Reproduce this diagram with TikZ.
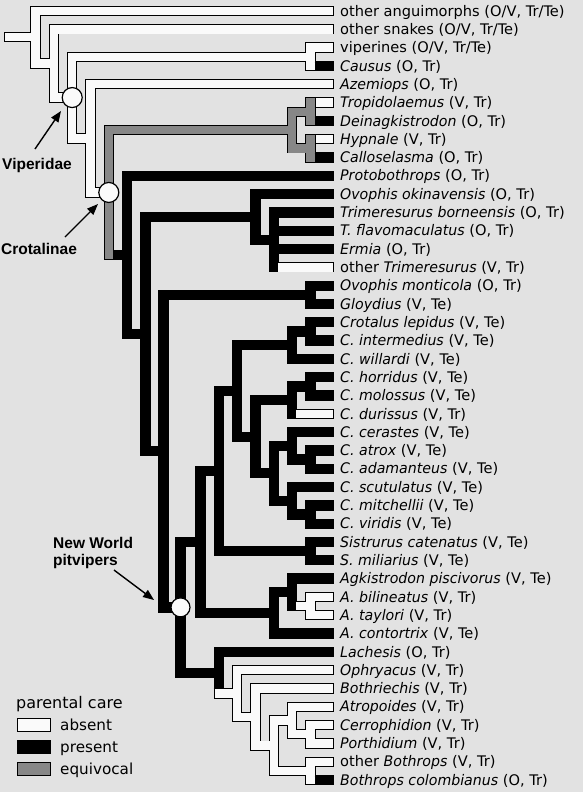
\documentclass[tikz,border=0pt]{standalone}
\usepackage{fontspec}
\setmainfont{DejaVu Sans}[ItalicFeatures={FakeStretch=0.97}]
\newfontfamily\boldsans{Liberation Sans}
\usetikzlibrary{calc,arrows.meta}
\definecolor{bg}{RGB}{226,226,226}
\definecolor{eqgray}{RGB}{135,135,135}
\definecolor{wfill}{RGB}{250,250,250}
\newcommand\mknode[4]{\path let \p1=($(#3)!0.5!(#4)$) in (#2pt,\y1) coordinate (#1);}
\newcommand\treebands{%
 \VB{R}{t1}{S}{wfill}
 \VB{S}{t2}{V}{wfill}
 \VB{V}{VC}{AC}{wfill}
 \VB{VC}{t3}{t4}{wfill}
 \VB{AC}{t5}{CT}{wfill}
 \VB{CT}{AS}{R2}{eqgray}
 \VB{AS}{P67}{P89}{eqgray}
 \VB{P67}{t6}{t7}{eqgray}
 \VB{P89}{t8}{t9}{eqgray}
 \VB{R2}{t10}{R3}{black}
 \VB{R3}{OT}{R4}{black}
 \VB{OT}{t11}{T1}{black}
 \VB{T1}{t12}{t15}{black}
 \VB{R4}{PA}{NW}{black}
 \VB{PA}{t16}{t17}{black}
 \VB{NW}{U}{L}{black}
 \VB{U}{CS}{AG}{black}
 \VB{CS}{CR}{SI}{black}
 \VB{CR}{CL}{X}{black}
 \VB{CL}{P1819}{t20}{black}
 \VB{P1819}{t18}{t19}{black}
 \VB{X}{CH}{Y}{black}
 \VB{CH}{P2122}{t23}{black}
 \VB{P2122}{t21}{t22}{black}
 \VB{Y}{YA}{YB}{black}
 \VB{YA}{t24}{P2526}{black}
 \VB{P2526}{t25}{t26}{black}
 \VB{YB}{t27}{P2829}{black}
 \VB{P2829}{t28}{t29}{black}
 \VB{SI}{t30}{t31}{black}
 \VB{AG}{AP}{t35}{black}
 \VB{AP}{t32}{AB}{black}
 \VB{AB}{t33}{t34}{wfill}
 \VB{L}{t36}{B}{black}
 \VB{B}{t37}{B2}{wfill}
 \VB{B2}{t38}{B3}{wfill}
 \VB{B3}{PG}{P4243}{wfill}
 \VB{PG}{t39}{P4041}{wfill}
 \VB{P4041}{t40}{t41}{wfill}
 \VB{P4243}{t42}{t43}{wfill}
 \HB{root}{R}{wfill}{0}{0}
 \HB{R}{t1}{wfill}{4.2}{0}
 \HB{R}{S}{wfill}{4.2}{0}
 \HB{S}{t2}{wfill}{4.2}{0}
 \HB{S}{V}{wfill}{4.2}{0}
 \HB{V}{VC}{wfill}{4.2}{0}
 \HB{V}{AC}{wfill}{4.2}{0}
 \HB{VC}{t3}{wfill}{4.2}{0}
 \HB{VC}{t4}{black}{4.2}{0}
 \HB{AC}{t5}{wfill}{4.2}{0}
 \HB{AC}{CT}{wfill}{4.2}{4.2}
 \HB{CT}{AS}{eqgray}{4.2}{0}
 \HB{CT}{R2}{black}{4.2}{0}
 \HB{AS}{P67}{eqgray}{4.2}{0}
 \HB{AS}{P89}{eqgray}{4.2}{0}
 \HB{P67}{t6}{wfill}{5.2}{0}
 \HB{P67}{t7}{black}{4.2}{0}
 \HB{P89}{t8}{wfill}{5.2}{0}
 \HB{P89}{t9}{black}{4.2}{0}
 \HB{R2}{t10}{black}{4.2}{0}
 \HB{R2}{R3}{black}{4.2}{0}
 \HB{R3}{OT}{black}{4.2}{0}
 \HB{R3}{R4}{black}{4.2}{0}
 \HB{OT}{t11}{black}{4.2}{0}
 \HB{OT}{T1}{black}{4.2}{0}
 \HB{T1}{t12}{black}{4.2}{0}
 \HB{T1}{t13}{black}{4.2}{0}
 \HB{T1}{t14}{black}{4.2}{0}
 \HB{T1}{t15}{wfill}{4.2}{0}
 \HB{R4}{PA}{black}{4.2}{0}
 \HB{R4}{NW}{black}{4.2}{0}
 \HB{PA}{t16}{black}{4.2}{0}
 \HB{PA}{t17}{black}{4.2}{0}
 \HB{NW}{U}{black}{4.2}{0}
 \HB{NW}{L}{black}{4.2}{0}
 \HB{U}{CS}{black}{4.2}{0}
 \HB{U}{AG}{black}{4.2}{0}
 \HB{CS}{CR}{black}{4.2}{0}
 \HB{CS}{SI}{black}{4.2}{0}
 \HB{CR}{CL}{black}{4.2}{0}
 \HB{CR}{X}{black}{4.2}{0}
 \HB{CL}{P1819}{black}{4.2}{0}
 \HB{CL}{t20}{black}{4.2}{0}
 \HB{P1819}{t18}{black}{4.2}{0}
 \HB{P1819}{t19}{black}{4.2}{0}
 \HB{X}{CH}{black}{4.2}{0}
 \HB{X}{Y}{black}{4.2}{0}
 \HB{CH}{P2122}{black}{4.2}{0}
 \HB{CH}{t23}{wfill}{4.2}{0}
 \HB{P2122}{t21}{black}{4.2}{0}
 \HB{P2122}{t22}{black}{4.2}{0}
 \HB{Y}{YA}{black}{4.2}{0}
 \HB{Y}{YB}{black}{4.2}{0}
 \HB{YA}{t24}{black}{4.2}{0}
 \HB{YA}{P2526}{black}{4.2}{0}
 \HB{P2526}{t25}{black}{4.2}{0}
 \HB{P2526}{t26}{black}{4.2}{0}
 \HB{YB}{t27}{black}{4.2}{0}
 \HB{YB}{P2829}{black}{4.2}{0}
 \HB{P2829}{t28}{black}{4.2}{0}
 \HB{P2829}{t29}{black}{4.2}{0}
 \HB{SI}{t30}{black}{4.2}{0}
 \HB{SI}{t31}{black}{4.2}{0}
 \HB{AG}{AP}{black}{4.2}{0}
 \HB{AG}{t35}{black}{4.2}{0}
 \HB{AP}{t32}{black}{4.2}{0}
 \HB{AP}{AB}{wfill}{4.2}{0}
 \HB{AB}{t33}{wfill}{4.2}{0}
 \HB{AB}{t34}{wfill}{4.2}{0}
 \HB{L}{t36}{black}{4.2}{0}
 \HB{L}{B}{wfill}{-4.2}{0}
 \HB{B}{t37}{wfill}{4.2}{0}
 \HB{B}{B2}{wfill}{4.2}{0}
 \HB{B2}{t38}{wfill}{4.2}{0}
 \HB{B2}{B3}{wfill}{4.2}{0}
 \HB{B3}{PG}{wfill}{4.2}{0}
 \HB{B3}{P4243}{wfill}{4.2}{0}
 \HB{PG}{t39}{wfill}{4.2}{0}
 \HB{PG}{P4041}{wfill}{4.2}{0}
 \HB{P4041}{t40}{wfill}{4.2}{0}
 \HB{P4041}{t41}{wfill}{4.2}{0}
 \HB{P4243}{t42}{wfill}{4.2}{0}
 \HB{P4243}{t43}{black}{4.2}{0}
}
\tikzset{
 lab/.style={anchor=base west,inner sep=0pt,font=\fontsize{14.6}{16}\selectfont},
 bl/.style={inner sep=0pt,font=\boldsans\bfseries\fontsize{15.5}{17}\selectfont},
 circ/.style={circle,draw,line width=1.2pt,fill=wfill,minimum size=20pt,inner sep=0pt},
 arr/.style={line width=1.4pt,-{Triangle[length=11pt,width=8.5pt]}},
 legbox/.style={draw,line width=0.95pt},
 legtxt/.style={anchor=base west,inner sep=0pt,font=\fontsize{15.2}{17}\selectfont}
}
\begin{document}
\begin{tikzpicture}[x=1pt,y=-1pt]
\fill[bg] (0,0) rectangle (583,792);
\useasboundingbox (0,0) rectangle (583,792);
\foreach \i in {1,...,43} {\coordinate (t\i) at (333,{11+18.31*(\i-1)});}
\mknode{VC}{310.5}{t3}{t4}
\mknode{P67}{310.5}{t6}{t7}
\mknode{P89}{310.5}{t8}{t9}
\mknode{AS}{292.1}{P67}{P89}
\mknode{T1}{274}{t12}{t15}
\mknode{OT}{255.5}{t11}{T1}
\mknode{PA}{310.5}{t16}{t17}
\mknode{P1819}{310.5}{t18}{t19}
\mknode{CL}{292.1}{P1819}{t20}
\mknode{P2122}{310.5}{t21}{t22}
\mknode{CH}{292.1}{P2122}{t23}
\mknode{P2526}{310.5}{t25}{t26}
\mknode{YA}{292.1}{t24}{P2526}
\mknode{P2829}{310.5}{t28}{t29}
\mknode{YB}{292.1}{t27}{P2829}
\mknode{Y}{273.8}{YA}{YB}
\mknode{X}{255.5}{CH}{Y}
\mknode{CR}{237.1}{CL}{X}
\mknode{SI}{310.5}{t30}{t31}
\mknode{CS}{218.8}{CR}{SI}
\mknode{AB}{310.5}{t33}{t34}
\mknode{AP}{292.1}{t32}{AB}
\mknode{AG}{273.8}{AP}{t35}
\mknode{U}{200.5}{CS}{AG}
\mknode{P4041}{310.5}{t40}{t41}
\mknode{PG}{292.1}{t39}{P4041}
\mknode{P4243}{310.5}{t42}{t43}
\mknode{B3}{273.8}{PG}{P4243}
\mknode{B2}{255.5}{t38}{B3}
\mknode{B}{237.1}{t37}{B2}
\mknode{L}{218.8}{t36}{B}
\mknode{NW}{180.5}{U}{L}
\mknode{R4}{163.5}{PA}{NW}
\mknode{R3}{145.5}{OT}{R4}
\mknode{R2}{127.2}{t10}{R3}
\mknode{CT}{108.8}{AS}{R2}
\mknode{AC}{90.5}{t5}{CT}
\mknode{V}{72.2}{VC}{AC}
\mknode{S}{53.8}{t2}{V}
\mknode{R}{35.5}{t1}{S}
\path let \p1=(R) in (5pt,\y1) coordinate (root);
% pass 1: outlines
\begingroup
\def\VB#1#2#3#4{\draw[line width=10.3pt,line cap=rect] (#1|-#2) -- (#1|-#3);}
\def\HB#1#2#3#4#5{\draw[line width=10.3pt,shorten <={#4pt-0.95pt},shorten >={#5pt-0.95pt}] (#1|-#2) -- (#2);}
\treebands
\endgroup
% pass 2: fills
\begingroup
\def\VB#1#2#3#4{\draw[line width=8.4pt,line cap=rect,#4] (#1|-#2) -- (#1|-#3);}
\def\HB#1#2#3#4#5{\draw[line width=8.4pt,#3,shorten <={#4pt},shorten >={#5pt}] (#1|-#2) -- (#2);}
\treebands
\endgroup
% node circles
\node[circ] (cV) at (V) {};
\node[circ] (cC) at (CT) {};
\node[circ,minimum size=19pt] (cN) at (NW) {};
% labels
\foreach \i/\txt in {1/{other anguimorphs (O/V, Tr/Te)},2/{other snakes (O/V, Tr/Te)},3/{viperines (O/V, Tr/Te)},4/{\textit{Causus} (O, Tr)},5/{\textit{Azemiops} (O, Tr)},6/{\textit{Tropidolaemus} (V, Tr)},7/{\textit{Deinagkistrodon} (O, Tr)},8/{\textit{Hypnale} (V, Tr)},9/{\textit{Calloselasma} (O, Tr)},10/{\textit{Protobothrops} (O, Tr)},11/{\textit{Ovophis okinavensis} (O, Tr)},12/{\textit{Trimeresurus borneensis} (O, Tr)},13/{\textit{T. flavomaculatus} (O, Tr)},14/{\textit{Ermia} (O, Tr)},15/{other \textit{Trimeresurus} (V, Tr)},16/{\textit{Ovophis monticola} (O, Tr)},17/{\textit{Gloydius} (V, Te)},18/{\textit{Crotalus lepidus} (V, Te)},19/{\textit{C. intermedius} (V, Te)},20/{\textit{C. willardi} (V, Te)},21/{\textit{C. horridus} (V, Te)},22/{\textit{C. molossus} (V, Te)},23/{\textit{C. durissus} (V, Tr)},24/{\textit{C. cerastes} (V, Te)},25/{\textit{C. atrox} (V, Te)},26/{\textit{C. adamanteus} (V, Te)},27/{\textit{C. scutulatus} (V, Te)},28/{\textit{C. mitchellii} (V, Te)},29/{\textit{C. viridis} (V, Te)},30/{\textit{Sistrurus catenatus} (V, Te)},31/{\textit{S. miliarius} (V, Te)},32/{\textit{Agkistrodon piscivorus} (V, Te)},33/{\textit{A. bilineatus} (V, Tr)},34/{\textit{A. taylori} (V, Tr)},35/{\textit{A. contortrix} (V, Te)},36/{\textit{Lachesis} (O, Tr)},37/{\textit{Ophryacus} (V, Tr)},38/{\textit{Bothriechis} (V, Tr)},39/{\textit{Atropoides} (V, Tr)},40/{\textit{Cerrophidion} (V, Tr)},41/{\textit{Porthidium} (V, Tr)},42/{other \textit{Bothrops} (V, Tr)},43/{\textit{Bothrops colombianus} (O, Tr)}}
 {\node[lab] (n\i) at ($(t\i)+(7,5.2)$) {\txt};}
% clade labels and arrows
\node[bl] (lV) at (37,165) {Viperidae};
\node[bl] (lC) at (39,249) {Crotalinae};
\node[bl,anchor=base west] (lN1) at (53,548) {New World};
\node[bl,anchor=base west] (lN2) at (53,565) {pitvipers};
\coordinate (aV1) at (35,149); \coordinate (aV2) at (61,111);
\coordinate (aC1) at (65,237); \coordinate (aC2) at (98,204);
\coordinate (aN1) at (114,570); \coordinate (aN2) at (154,600);
\draw[arr] (aV1) -- (aV2);
\draw[arr] (aC1) -- (aC2);
\draw[arr] (aN1) -- (aN2);
% legend
\node[legtxt,font=\fontsize{16}{18}\selectfont] (lg0) at (16,708) {parental care};
\node[legbox,fill=wfill,minimum width=33pt,minimum height=13pt,inner sep=0pt,anchor=north west] (lg1b) at (17,718) {};
\node[legbox,fill=black,minimum width=33pt,minimum height=13pt,inner sep=0pt,anchor=north west] (lg2b) at (17,740) {};
\node[legbox,fill=eqgray,minimum width=33pt,minimum height=13pt,inner sep=0pt,anchor=north west] (lg3b) at (17,762) {};
\node[legtxt] (lg1) at (60,730) {absent};
\node[legtxt] (lg2) at (60,752) {present};
\node[legtxt] (lg3) at (60,774) {equivocal};
\end{tikzpicture}
\end{document}
